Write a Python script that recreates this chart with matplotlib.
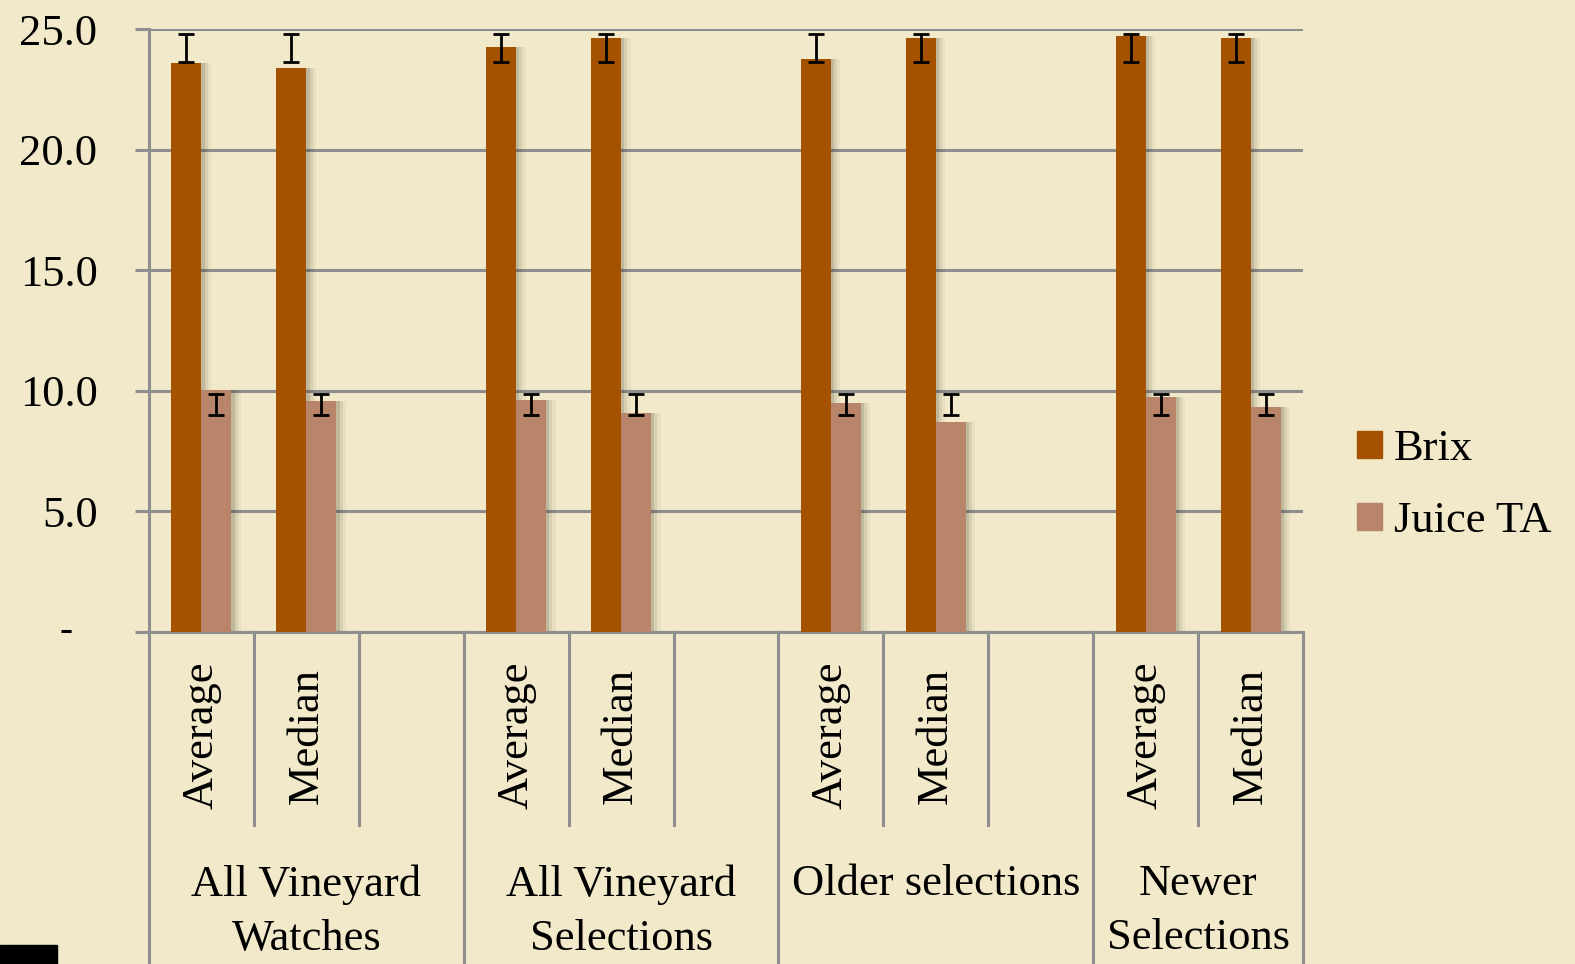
import matplotlib
matplotlib.use("Agg")
import matplotlib.pyplot as plt
import matplotlib.transforms as mtransforms
from matplotlib.patches import Rectangle, Patch
import numpy as np

# dados
grupos = ["All Vineyard\nWatches", "All Vineyard\nSelections", "Older selections", "Newer\nSelections"]
subcats = ["Average", "Median"]
slots_por_grupo = [3, 3, 3, 2]

brix = [23.6, 23.4, 24.25, 24.63, 23.76, 24.63, 24.71, 24.63]
juice_ta = [10.03, 9.58, 9.62, 9.08, 9.49, 8.71, 9.74, 9.33]
brix_err_centro = [24.2] * 8
brix_err = [0.58] * 8
ta_err_centro = [9.43] * 8
ta_err = [0.45] * 8

yticks = [0, 5, 10, 15, 20, 25]
ytick_labels = ["", "5.0", "10.0", "15.0", "20.0", "25.0"]

cor_brix = "#a55200"
cor_ta = "#b8856a"
fundo = "#f1e9c9"
cinza = "#8e8e8e"
fonte = "Liberation Serif"

plt.rcParams["font.family"] = fonte

fig = plt.figure(figsize=(15.75, 9.64), dpi=100, facecolor=fundo)
ax = fig.add_axes([0.0946, 0.3444, 0.7327, 0.6255])
ax.set_facecolor("none")

# posicoes dos slots
centros = []
inicio = 0
for n in slots_por_grupo:
    for k in range(2):
        centros.append(inicio + k + 0.5)
    inicio += n
centros = np.array(centros)
total = sum(slots_por_grupo)
w = 0.286

# sombras suaves
for off, a in [(0.03, 0.14), (0.06, 0.09), (0.09, 0.05)]:
    ax.bar(centros - w / 2 + off, brix, w, color="#3a3320", alpha=a, zorder=1, linewidth=0)
    ax.bar(centros + w / 2 + off, juice_ta, w, color="#3a3320", alpha=a, zorder=1, linewidth=0)

ax.bar(centros - w / 2, brix, w, color=cor_brix, zorder=3, linewidth=0)
ax.bar(centros + w / 2, juice_ta, w, color=cor_ta, zorder=3, linewidth=0)

ax.errorbar(centros - w / 2, brix_err_centro, yerr=brix_err, fmt="none", ecolor="black",
            elinewidth=2, capsize=6, capthick=2, zorder=4)
ax.errorbar(centros + w / 2, ta_err_centro, yerr=ta_err, fmt="none", ecolor="black",
            elinewidth=2, capsize=6, capthick=2, zorder=4)

ax.set_xlim(0, total)
ax.set_ylim(0, 25)
ax.set_yticks(yticks)
ax.set_yticklabels(ytick_labels, fontsize=32)
ax.yaxis.grid(True, color=cinza, linewidth=2.2, zorder=0)
ax.set_axisbelow(True)
ax.tick_params(axis="y", length=10, width=2.2, color=cinza, pad=27)
ax.set_xticks([])
for s in ["top", "right", "bottom"]:
    ax.spines[s].set_visible(False)
ax.spines["left"].set_color(cinza)
ax.spines["left"].set_linewidth(2.2)

# zero como "-"
ax.text(-0.066, 0, "-", transform=mtransforms.blended_transform_factory(ax.transAxes, ax.transData),
        ha="right", va="center", fontsize=28)

trans = mtransforms.blended_transform_factory(ax.transData, ax.transAxes)
ax.plot([0, total], [0, 0], color=cinza, linewidth=2.2, transform=trans, clip_on=False, zorder=2)

# separadores do eixo de categorias
inicio = 0
for n in slots_por_grupo:
    ax.plot([inicio, inicio], [0, -0.62], color=cinza, linewidth=2.2, transform=trans, clip_on=False)
    for k in range(1, n):
        ax.plot([inicio + k, inicio + k], [0, -0.32], color=cinza, linewidth=2.2, transform=trans, clip_on=False)
    inicio += n
ax.plot([total, total], [0, -0.62], color=cinza, linewidth=2.2, transform=trans, clip_on=False)

# rotulos
inicio = 0
for g, n in zip(grupos, slots_por_grupo):
    for k, s in enumerate(subcats):
        ax.text(inicio + k + 0.5, -0.172, s, rotation=90, ha="center", va="center",
                fontsize=32, transform=trans)
    ax.text(inicio + n / 2, -0.385, g, ha="center", va="top", fontsize=32,
            transform=trans, linespacing=1.45)
    inicio += n

handles = [Patch(color=cor_brix), Patch(color=cor_ta)]
fig.legend(handles, ["Brix", "Juice TA"], loc="center left", bbox_to_anchor=(0.836, 0.497),
           frameon=False, fontsize=32, handlelength=0.57, handleheight=0.57,
           handletextpad=0.27, labelspacing=0.72)

fig.patches.append(Rectangle((0, 0), 57 / 1575, 19 / 964, transform=fig.transFigure,
                             color="black", zorder=10))

fig.savefig("out.png", dpi=100, facecolor=fundo)
